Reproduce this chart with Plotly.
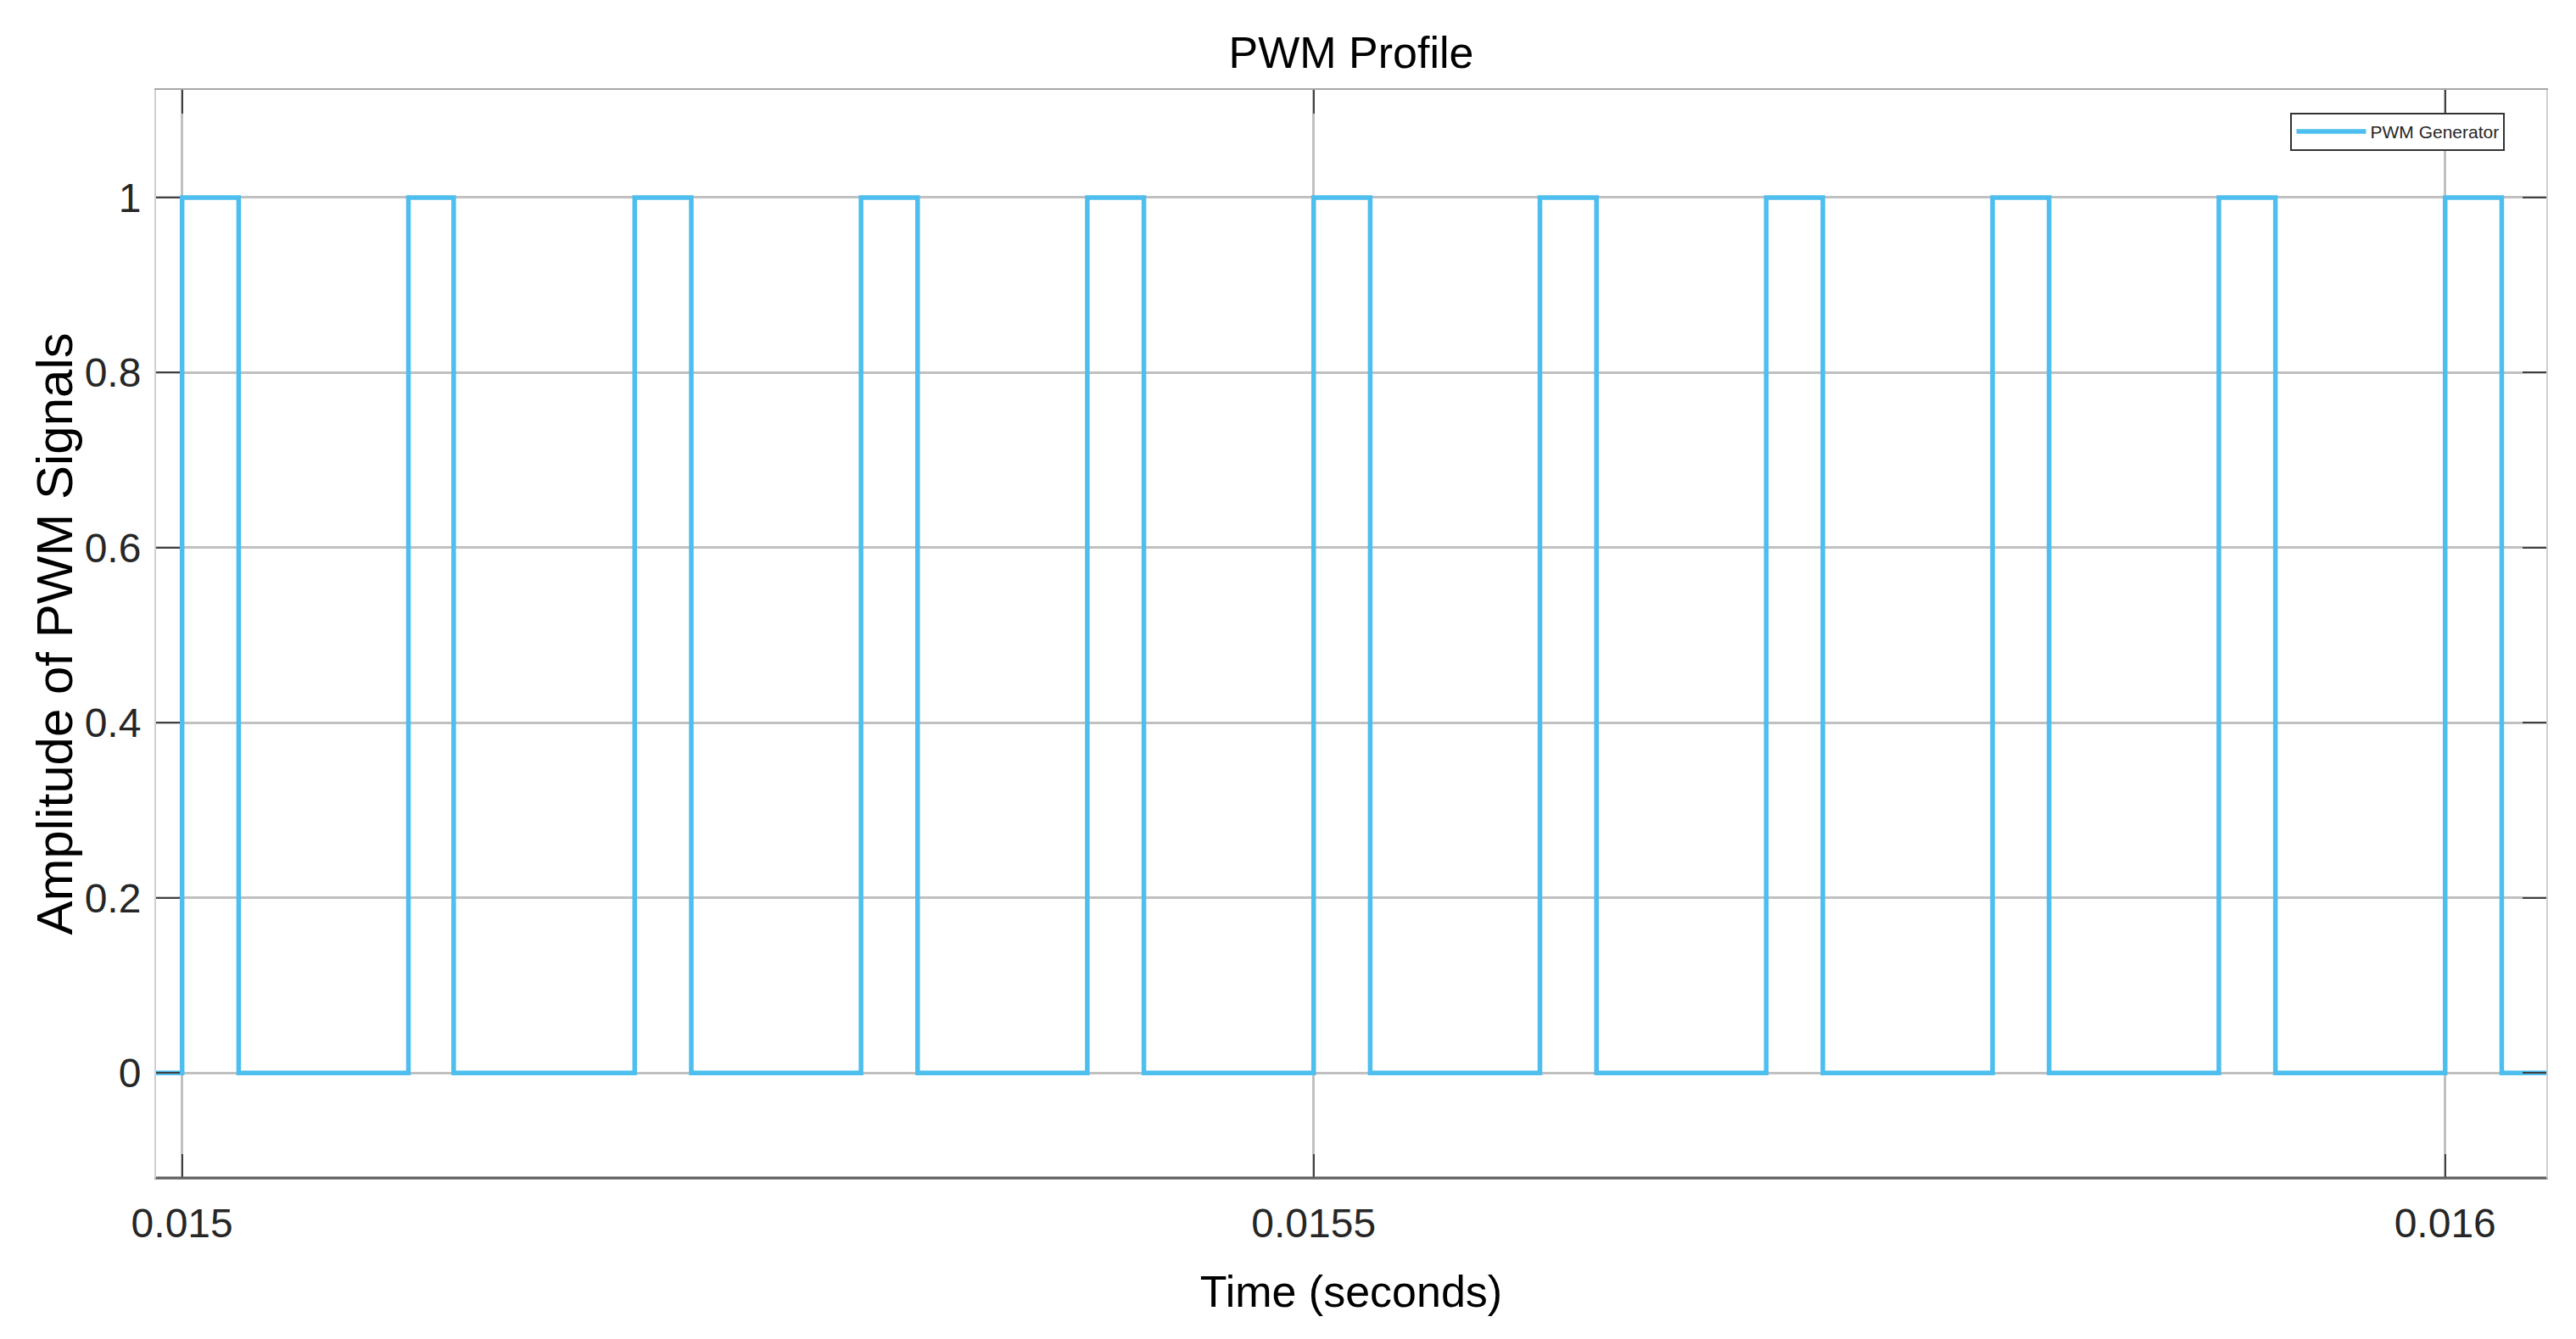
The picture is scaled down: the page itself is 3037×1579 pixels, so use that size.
import plotly.graph_objects as go

# ---- data ----
t_start = 0.0149885
t_end = 0.0160447
rise_times = [0.015000, 0.015100, 0.015200, 0.015300, 0.015400, 0.015500,
              0.015600, 0.015700, 0.015800, 0.015900, 0.016000]
fall_times = [0.015025, 0.015120, 0.015225, 0.015325, 0.015425, 0.015525,
              0.015625, 0.015725, 0.015825, 0.015925, 0.016025]
x_ticks = [0.015, 0.0155, 0.016]
x_tick_labels = ["0.015", "0.0155", "0.016"]
y_ticks = [0, 0.2, 0.4, 0.6, 0.8, 1]
y_tick_labels = ["0", "0.2", "0.4", "0.6", "0.8", "1"]
series_name = "PWM Generator"

# step signal points
xs = [t_start]
ys = [0]
for r, f in zip(rise_times, fall_times):
    xs += [r, f]
    ys += [1, 0]
xs.append(t_end)
ys.append(0)

W, H = 3037, 1579
# page body has an 8px default margin; margins compensate for it
ml, mr, mt, mb = 176, 43, 98, 198

FONT = "Liberation Sans, Arial, sans-serif"

fig = go.Figure()
fig.add_trace(go.Scatter(
    x=xs, y=ys, mode="lines", name=series_name,
    line=dict(color="#4DBEEE", width=5.5, shape="hv"),
    showlegend=True,
))

axis_common = dict(
    showgrid=True, gridcolor="#c0c0c0", gridwidth=2.5,
    showline=True, mirror="allticks", linewidth=2,
    ticks="inside", ticklen=28, tickwidth=2, tickcolor="#404040",
    zeroline=False,
    tickfont=dict(family=FONT, size=48, color="#262626"),
)

fig.update_xaxes(
    range=[t_start, t_end], tickvals=x_ticks, ticktext=x_tick_labels,
    linecolor="#a8a8a8",
    title=dict(text="Time (seconds)", font=dict(family=FONT, size=52, color="#000000"),
               standoff=37),
    ticklabelstandoff=10,
    **axis_common,
)
fig.update_yaxes(
    range=[-0.12, 1.123], tickvals=y_ticks, ticktext=y_tick_labels,
    linecolor="#cfcfcf",
    ticklabelstandoff=6,
    **axis_common,
)

# y-axis title placed as an annotation for exact positioning
fig.add_annotation(
    text="Amplitude of PWM Signals", textangle=-90,
    xref="paper", yref="paper", x=0, y=0.5, xanchor="center", yanchor="middle",
    xshift=-120, showarrow=False,
    font=dict(family=FONT, size=60, color="#000000"),
)

# darker bottom axis line
fig.add_shape(type="line", xref="paper", yref="paper", x0=0, x1=1, y0=0, y1=0,
              line=dict(color="#606060", width=3), layer="above")

fig.update_layout(
    width=W, height=H,
    margin=dict(l=ml, r=mr, t=mt, b=mb, autoexpand=False),
    paper_bgcolor="#ffffff", plot_bgcolor="#ffffff",
    title=dict(text="PWM Profile", x=(ml + 0.5 * (W - ml - mr)) / W, xanchor="center",
               y=1 - 54 / H, yanchor="middle", yref="container",
               font=dict(family=FONT, size=52, color="#000000")),
    legend=dict(x=0.893, y=0.979, xanchor="left", yanchor="top",
                bgcolor="#ffffff", bordercolor="#333333", borderwidth=2,
                font=dict(family=FONT, size=21, color="#262626"),
                itemwidth=82),
    showlegend=True,
)

fig.write_html("out.html")
